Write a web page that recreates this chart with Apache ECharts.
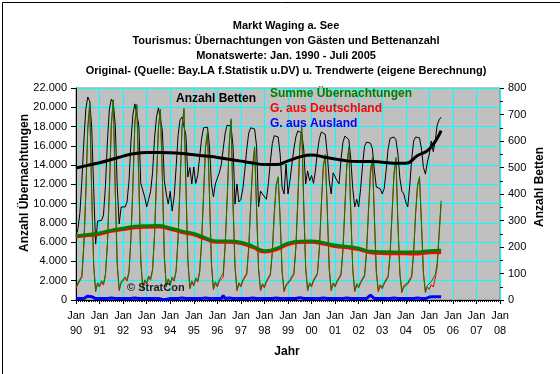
<!DOCTYPE html>
<html><head><meta charset="utf-8">
<script src="https://cdn.jsdelivr.net/npm/echarts@6/dist/echarts.min.js"></script>
<style>html,body{margin:0;padding:0;background:#fff}#c{width:560px;height:374px}</style>
</head><body><div id="c"></div><script>
// x axis: months since Jan 1990; ticks every January
const yearLabels = ['90','91','92','93','94','95','96','97','98','99','00','01','02','03','04','05','06','07','08'];

// Monthly values Jan 1990 - Jul 2005
const summe = [
 1300,1800,1600,2500,5800,11200,18000,20500,11300,3700,1000,1800,
 1500,2000,1700,2700,5900,11400,18300,20800,11400,3800,1100,1900,
 1700,2400,2100,3000,6500,12000,18500,20300,12500,4200,1300,2100,
 1800,2500,2200,3200,6800,12500,18000,19800,12800,4500,1400,2200,
 1700,2400,2100,3100,6500,12000,18000,19900,12000,4200,1300,2000,
 1600,2300,2000,3000,6200,11000,16000,17500,11000,3800,1200,1900,
 1500,2100,1900,2800,5800,10500,16000,18800,10000,3500,1100,1800,
 1500,2100,1900,2800,5500,10000,14000,15900,9500,3300,1100,1700,
 1400,2000,1800,2700,5000,9000,12000,12800,8500,3000,1000,1600,
 1500,2100,1900,2800,5500,10500,16000,18000,10000,3400,1100,1800,
 1500,2100,1900,2800,5500,10000,14000,15100,9500,3300,1100,1800,
 1500,2000,1800,2700,5300,9800,14200,15900,9000,3200,1000,1700,
 1400,1900,1700,2600,5000,9300,13500,14800,8700,3000,1000,1600,
 1300,1800,1600,2500,4800,9000,13200,14800,8000,2800,900,1500,
 1300,1800,1600,2500,5000,9000,12000,12800,8000,2800,900,1500,
 1400,1900,1700,2600,3800,7100,10300];
const deutschland = [
 1150,1650,1450,2350,5650,10950,17600,20050,10950,3550,850,1650,
 1350,1850,1550,2550,5750,11250,18100,20600,11250,3650,950,1750,
 1550,2250,1950,2850,6350,11850,18300,20100,12350,4050,1150,1950,
 1650,2350,2050,3050,6650,12350,17850,19750,12750,4450,1350,2150,
 1550,2250,1950,2950,6350,11850,17800,19700,11850,4050,1150,1850,
 1450,2150,1850,2850,6050,10850,15800,17300,10850,3650,1050,1750,
 1350,1950,1750,2350,5650,10350,15800,18600,9850,3350,950,1650,
 1350,1950,1750,2650,5350,9850,13800,15700,9350,3150,950,1550,
 1250,1850,1650,2550,4850,8850,11800,12600,8350,2850,850,1450,
 1350,1950,1750,2650,5350,10200,15750,17800,9850,3250,950,1650,
 1350,1950,1750,2650,5350,9850,13800,14900,9350,3150,950,1650,
 1350,1850,1650,2550,5150,9650,14000,15700,8850,3050,850,1550,
 1250,1750,1550,2450,4850,9150,13000,14500,8550,2850,850,1450,
 1150,1650,1450,2350,4650,8850,13000,14600,7850,2650,750,1350,
 1150,1650,1450,2350,4850,8850,11800,12600,7850,2650,750,1350,
 1100,1600,1350,2250,3450,6750,9950];
const ausland = [
 150,150,150,150,150,250,400,450,350,150,150,150,
 150,150,150,150,150,150,200,200,150,150,150,150,
 150,150,150,150,150,150,200,200,150,150,150,150,
 150,150,150,150,150,150,150,50,50,50,50,50,
 150,150,150,150,150,150,200,200,150,150,150,150,
 150,150,150,150,150,150,200,200,150,150,150,150,
 150,150,150,450,150,150,200,200,150,150,150,150,
 150,150,150,150,150,150,200,200,150,150,150,150,
 150,150,150,150,150,150,200,200,150,150,150,150,
 150,150,150,150,150,300,250,200,150,150,150,150,
 150,150,150,150,150,150,200,200,150,150,150,150,
 150,150,150,150,150,150,200,200,150,150,150,150,
 150,150,150,150,150,150,500,300,150,150,150,150,
 150,150,150,150,150,150,200,200,150,150,150,150,
 150,150,150,150,150,150,200,200,150,150,150,150,
 300,300,350,350,350,350,350];
const betten = [
 240,270,330,450,600,720,766,750,650,420,211,298,
 300,300,320,430,600,720,758,745,660,430,287,351,
 351,351,370,450,600,700,740,735,660,440,438,389,
 351,380,410,480,610,690,725,720,640,450,400,362,
 410,336,390,500,620,680,690,685,620,464,500,438,
 502,440,470,540,610,650,657,652,580,438,389,438,
 460,480,510,570,630,660,664,655,580,362,438,370,
 380,420,490,570,630,650,653,645,580,351,411,400,
 400,380,440,520,590,620,626,615,550,426,400,513,
 400,450,513,570,615,638,638,630,570,438,487,450,
 470,440,490,560,610,634,634,625,550,450,400,480,
 475,450,438,530,595,619,619,605,530,420,351,380,
 351,420,510,580,596,596,592,570,490,426,430,420,
 400,420,490,570,610,615,615,605,550,460,411,400,
 370,351,430,530,600,615,615,612,570,500,475,520,
 551,600,560,600,660,680,690];

// Trend values, every 6 months (month index since Jan 1990)
const trendMonths = [0,6,12,18,24,30,36,42,48,54,60,66,72,78,84,90,96,102,108,114,120,126,132,138,144,150,156,162,168,174,180,186];
const trendSumme = [6670,6800,6950,7250,7450,7650,7710,7720,7470,7150,6900,6450,6120,6120,6000,5600,5120,5350,5900,6100,6120,5950,5700,5550,5380,5050,5000,4990,4990,4990,5120,5150];
const trendDeutsch = [6550,6680,6830,7120,7310,7500,7560,7570,7330,7010,6760,6310,5980,5980,5860,5460,4980,5210,5760,5960,5980,5810,5560,5410,5240,4900,4830,4800,4790,4780,4900,4920];
const trendBetten = [498,508,518,530,543,553,557,557,556,553,548,543,538,531,524,517,511,511,525,540,547,540,532,525,523,523,520,516,516,545,570,639];

const monthly = arr => arr.map((v, i) => [i, v]);
const trend = arr => arr.map((v, i) => [trendMonths[i], v]);
const fmt = v => String(v).replace(/\B(?=(\d{3})+(?!\d))/g, '.');

const FONT = 'Liberation Sans, Arial, sans-serif';
const chart = echarts.init(document.getElementById('c'), null, {renderer: 'canvas'});
chart.setOption({
  animation: false,
  backgroundColor: '#ffffff',
  textStyle: {fontFamily: FONT},
  title: {
    text: 'Markt Waging a. See\nTourismus: Übernachtungen von Gästen und Bettenanzahl\nMonatswerte: Jan. 1990 - Juli 2005\nOriginal- (Quelle: Bay.LA f.Statistik u.DV) u. Trendwerte (eigene Berechnung)',
    left: 286, top: 18, padding: 0, textAlign: 'center',
    textStyle: {fontFamily: FONT, fontSize: 11, fontWeight: 'bold', color: '#000', lineHeight: 15, align: 'center'}
  },
  grid: {left: 76, right: 60, top: 88, bottom: 74, show: true, backgroundColor: '#c0c0c0', borderColor: '#808080', borderWidth: 1},
  xAxis: {
    type: 'value', min: 0, max: 216, interval: 12,
    axisLine: {show: true, lineStyle: {color: '#000', width: 1}},
    axisTick: {show: true, length: 4, lineStyle: {color: '#000'}},
    minorTick: {show: true, splitNumber: 12, length: 2, lineStyle: {color: '#000'}},
    splitLine: {show: true, lineStyle: {color: '#00ffff', width: 1}},
    axisLabel: {fontFamily: FONT, fontSize: 11, color: '#000', margin: 8, lineHeight: 15,
      formatter: v => 'Jan\n' + yearLabels[Math.round(v / 12)]}
  },
  yAxis: [{
    type: 'value', min: 0, max: 22000, interval: 2000, position: 'left',
    axisLine: {show: true, lineStyle: {color: '#000'}},
    axisTick: {show: true, length: 5, lineStyle: {color: '#000'}},
    splitLine: {show: true, lineStyle: {color: '#00ffff', width: 1}},
    axisLabel: {fontFamily: FONT, fontSize: 11, color: '#000', margin: 9, formatter: fmt}
  }, {
    type: 'value', min: 0, max: 800, interval: 100, position: 'right',
    axisLine: {show: false},
    axisTick: {show: true, length: 4, lineStyle: {color: '#000'}},
    minorTick: {show: true, splitNumber: 2, length: 3, lineStyle: {color: '#000'}},
    splitLine: {show: false},
    axisLabel: {fontFamily: FONT, fontSize: 11, color: '#000', margin: 8}
  }],
  series: [
    {name: 'Anzahl Betten', type: 'line', yAxisIndex: 1, data: monthly(betten), symbol: 'none', lineStyle: {color: '#000', width: 1}, z: 2},
    {name: 'G. aus Deutschland', type: 'line', data: monthly(deutschland), symbol: 'none', lineStyle: {color: '#ff0000', width: 1}, z: 3},
    {name: 'Summe Übernachtungen', type: 'line', data: monthly(summe), symbol: 'none', lineStyle: {color: '#008000', width: 1}, z: 4},
    {name: 'G. aus Ausland', type: 'line', data: monthly(ausland), symbol: 'none', lineStyle: {color: '#0000ff', width: 3}, z: 5},
    {name: 'Trend Deutschland', type: 'line', data: trend(trendDeutsch), smooth: true, symbol: 'none', lineStyle: {color: '#ff0000', width: 3}, z: 6},
    {name: 'Trend Summe', type: 'line', data: trend(trendSumme), smooth: true, symbol: 'none', lineStyle: {color: '#008000', width: 3}, z: 7},
    {name: 'Trend Betten', type: 'line', yAxisIndex: 1, data: trend(trendBetten), smooth: true, symbol: 'none', lineStyle: {color: '#000', width: 3}, z: 8}
  ],
  graphic: [
    {type: 'rect', left: 0, top: 0, shape: {x: 0.5, y: 0.5, width: 559, height: 373}, style: {fill: 'none', stroke: '#000', lineWidth: 1}, silent: true, z: 100},
    {type: 'text', x: 25, y: 183, rotation: Math.PI / 2, style: {text: 'Anzahl Übernachtungen', font: 'bold 12px ' + FONT, fill: '#000', textAlign: 'center', textVerticalAlign: 'middle'}, z: 100},
    {type: 'text', x: 540, y: 187, rotation: Math.PI / 2, style: {text: 'Anzahl Betten', font: 'bold 12px ' + FONT, fill: '#000', textAlign: 'center', textVerticalAlign: 'middle'}, z: 100},
    {type: 'text', x: 287, y: 352, style: {text: 'Jahr', font: 'bold 12px ' + FONT, fill: '#000', textAlign: 'center', textVerticalAlign: 'middle'}, z: 100},
    {type: 'text', x: 176, y: 99, style: {text: 'Anzahl Betten', font: 'bold 12px ' + FONT, fill: '#000', textAlign: 'left', textVerticalAlign: 'middle'}, z: 100},
    {type: 'text', x: 270, y: 94, style: {text: 'Summe Übernachtungen', font: 'bold 12px ' + FONT, fill: '#008000', textAlign: 'left', textVerticalAlign: 'middle'}, z: 100},
    {type: 'text', x: 270, y: 109, style: {text: 'G. aus Deutschland', font: 'bold 12px ' + FONT, fill: '#ff0000', textAlign: 'left', textVerticalAlign: 'middle'}, z: 100},
    {type: 'text', x: 270, y: 123.5, style: {text: 'G. aus Ausland', font: 'bold 12px ' + FONT, fill: '#0000ff', textAlign: 'left', textVerticalAlign: 'middle'}, z: 100},
    {type: 'text', x: 127, y: 288, style: {text: '© StratCon', font: 'bold 11px ' + FONT, fill: '#202020', textAlign: 'left', textVerticalAlign: 'middle'}, z: 100}
  ]
});
</script></body></html>
